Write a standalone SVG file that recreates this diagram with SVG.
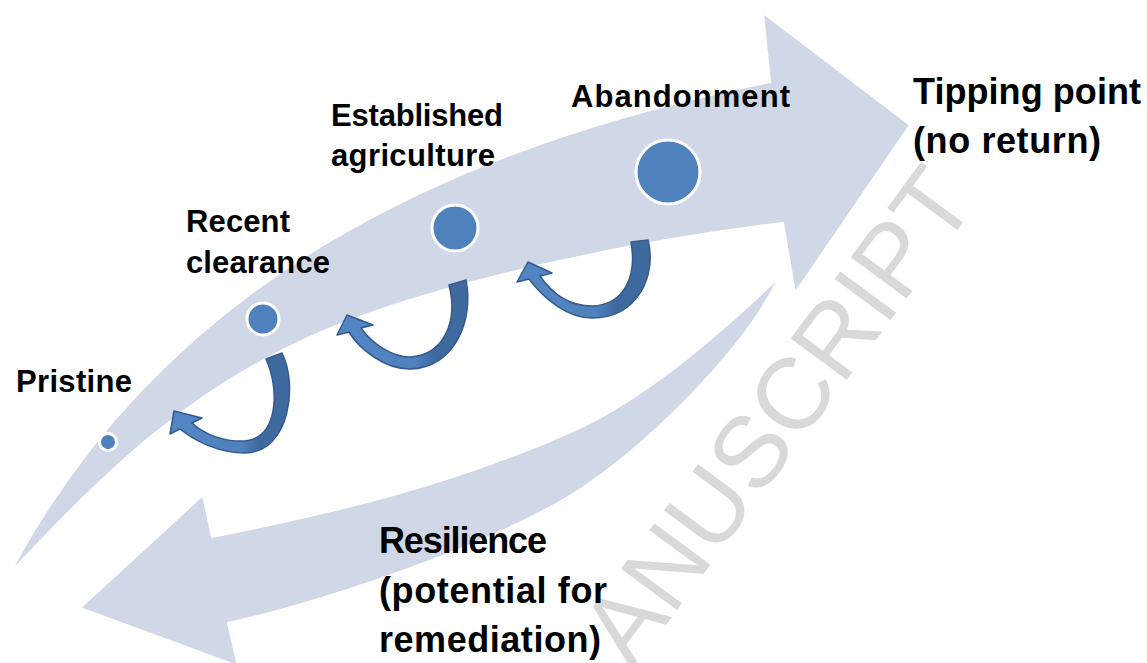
<svg xmlns="http://www.w3.org/2000/svg" width="1147" height="663" viewBox="0 0 1147 663">
<style>
.band{fill:#D0D8E8;stroke:#fff;stroke-width:2;stroke-linejoin:miter}
.dot{fill:#4F81BD;stroke:#fff;stroke-width:3}
.lbl{font-family:"Liberation Sans",Arial,sans-serif;font-weight:bold;fill:#000}
.s{font-size:31px}
.b{font-size:36px}
.turn{fill:url(#rib);stroke:#355A8C;stroke-width:1.5;stroke-linejoin:round}
.wm{font-family:"Liberation Sans",Arial,sans-serif;font-size:101px;fill:#D9D9D9}
</style>
<defs>
<linearGradient id="rib" x1="0" y1="0" x2="1" y2="0">
<stop offset="0" stop-color="#5387C4"/>
<stop offset="0.6" stop-color="#4F81BD"/>
<stop offset="0.74" stop-color="#3F6AA0"/>
<stop offset="1" stop-color="#3F6AA0"/>
</linearGradient>
</defs>
<rect width="1147" height="663" fill="#fff"/>
<text class="wm" transform="translate(632,671) rotate(-53.6)">ANUSCRIPT</text>
<g id="flow-arrows">
<path id="resilience-arrow" class="band" d="M779,277 C719,335 643,400 573,431 C453,485 332,513 212,537 L203,495 L80,608 L238,666 L228,623 C318,603 483,549 573,494 C645,448 745,350 779,277 Z"/>
<path id="degradation-arrow" class="band" d="M10,573 C162,287 440,148 770,82 L763,13 L910,125 L795,293 L783,223 C633,241 430,283 310,337 C190,391 110,466 10,573 Z"/>
</g>
<g id="connectors">
<path class="turn" d="M282,353 C298,385 290,452 245,453 C220,453 196,442 180,429 L170,434 L174,411 L202,418 L192,423 C205,435 225,442 245,441 C278,438 280,390 266,359 Z"/>
<path class="turn" d="M466,280 C474,320 455,368 410,369 C385,369 360,350 349,332 L337,335 L347,315 L373,325 L361,328 C373,345 393,357 410,357 C445,355 458,320 449,285 Z"/>
<path class="turn" d="M648,240 C657,275 638,318 592,318 C568,318 545,300 529,279 L517,282 L528,262 L552,273 L540,276 C553,295 570,306 592,306 C625,305 637,275 631,242 Z"/>
</g>
<g id="node-pristine">
<circle class="dot" cx="108" cy="442" r="8.5"/>
<text class="lbl s" x="16" y="392" textLength="116">Pristine</text>
</g>
<g id="node-recent-clearance">
<circle class="dot" cx="263" cy="319" r="16"/>
<text class="lbl s" x="186" y="232" textLength="104">Recent</text>
<text class="lbl s" x="186" y="273" textLength="144">clearance</text>
</g>
<g id="node-established-agriculture">
<circle class="dot" cx="455" cy="228" r="23"/>
<text class="lbl s" x="331" y="126" textLength="172">Established</text>
<text class="lbl s" x="331" y="166" textLength="164">agriculture</text>
</g>
<g id="node-abandonment">
<circle class="dot" cx="668" cy="172" r="32"/>
<text class="lbl s" x="571" y="107" textLength="219">Abandonment</text>
</g>
<g id="node-tipping-point">
<text class="lbl b" x="913" y="104" textLength="228">Tipping point</text>
<text class="lbl b" x="913" y="153" textLength="188">(no return)</text>
</g>
<g id="node-resilience">
<text class="lbl b" x="379" y="553" textLength="168">Resilience</text>
<text class="lbl b" x="379" y="603" textLength="228">(potential for</text>
<text class="lbl b" x="379" y="652" textLength="222">remediation)</text>
</g>
</svg>
